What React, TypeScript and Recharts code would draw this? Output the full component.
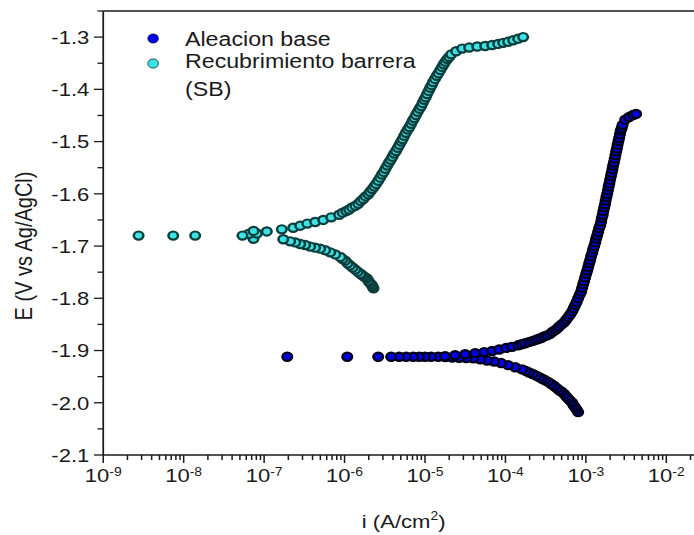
import React from 'react';
import { ScatterChart, Scatter, XAxis, YAxis, ReferenceLine, Legend } from 'recharts';

// Aleacion base: current density (A/cm2) and potential (V vs Ag/AgCl)
// cathodic branch, from -2.02 V up to the corrosion potential
const baseCathI = [
  8.02e-4, 7.69e-4, 7.36e-4, 7.05e-4, 6.76e-4, 6.38e-4, 6.03e-4, 5.69e-4, 5.37e-4, 5.0e-4,
  4.66e-4, 4.34e-4, 4.04e-4, 3.71e-4, 3.4e-4, 3.12e-4, 2.86e-4, 2.63e-4, 2.41e-4, 2.18e-4,
  1.97e-4, 1.79e-4, 1.61e-4, 1.32e-4, 1.08e-4, 8.85e-5, 7.24e-5, 5.93e-5, 4.85e-5, 3.97e-5,
  3.25e-5, 2.66e-5, 2.18e-5, 1.78e-5, 1.46e-5, 1.19e-5, 1.0e-5, 8.47e-6, 7.13e-6, 5.83e-6,
  4.77e-6, 3.8e-6, 2.62e-6, 1.08e-6, 1.94e-7,
];
const baseCathE = [
  -2.018, -2.013, -2.009, -2.005, -2.0, -1.996, -1.992, -1.988, -1.983, -1.979,
  -1.976, -1.972, -1.968, -1.964, -1.96, -1.957, -1.954, -1.951, -1.948, -1.945,
  -1.942, -1.939, -1.936, -1.932, -1.928, -1.924, -1.921, -1.919, -1.917, -1.915,
  -1.9145, -1.914, -1.9133, -1.9126, -1.912, -1.912, -1.912, -1.912, -1.912, -1.912,
  -1.912, -1.912, -1.912, -1.912, -1.912,
];
// anodic branch, from the corrosion potential up to -1.45 V
const baseAnodI = [
  1.78e-5, 2.37e-5, 3.16e-5, 4.21e-5, 5.45e-5, 6.84e-5, 8.36e-5, 1.02e-4, 1.21e-4, 1.44e-4,
  1.59e-4, 1.76e-4, 1.95e-4, 2.15e-4, 2.34e-4, 2.55e-4, 2.78e-4, 3.03e-4, 3.3e-4, 3.6e-4,
  3.86e-4, 4.15e-4, 4.4e-4, 4.66e-4, 5.0e-4, 5.37e-4, 5.69e-4, 6.03e-4, 6.38e-4, 6.76e-4,
  7.05e-4, 7.36e-4, 7.69e-4, 8.02e-4, 8.38e-4, 8.75e-4, 8.99e-4, 9.25e-4, 9.53e-4, 9.8e-4,
  1.01e-3, 1.04e-3, 1.07e-3, 1.1e-3, 1.13e-3, 1.16e-3, 1.2e-3, 1.23e-3, 1.27e-3, 1.31e-3,
  1.34e-3, 1.38e-3, 1.42e-3, 1.46e-3, 1.51e-3, 1.55e-3, 1.58e-3, 1.62e-3, 1.65e-3, 1.69e-3,
  1.73e-3, 1.76e-3, 1.8e-3, 1.84e-3, 1.88e-3, 1.92e-3, 1.96e-3, 2.0e-3, 2.05e-3, 2.09e-3,
  2.14e-3, 2.18e-3, 2.23e-3, 2.28e-3, 2.33e-3, 2.38e-3, 2.43e-3, 2.48e-3, 2.54e-3, 2.59e-3,
  2.65e-3, 2.71e-3, 2.79e-3, 2.86e-3, 3.08e-3, 3.45e-3, 3.87e-3, 4.22e-3,
];
const baseAnodE = [
  -1.911, -1.909, -1.907, -1.905, -1.903, -1.901, -1.898, -1.895, -1.893, -1.89,
  -1.888, -1.886, -1.884, -1.882, -1.88, -1.878, -1.876, -1.873, -1.871, -1.868,
  -1.864, -1.861, -1.858, -1.854, -1.85, -1.846, -1.841, -1.836, -1.831, -1.825,
  -1.819, -1.813, -1.807, -1.8, -1.793, -1.787, -1.78, -1.773, -1.767, -1.76,
  -1.753, -1.747, -1.74, -1.733, -1.727, -1.72, -1.713, -1.706, -1.7, -1.693,
  -1.686, -1.68, -1.673, -1.666, -1.66, -1.653, -1.646, -1.64, -1.633, -1.626,
  -1.62, -1.613, -1.606, -1.6, -1.593, -1.586, -1.58, -1.573, -1.566, -1.56,
  -1.553, -1.546, -1.54, -1.533, -1.526, -1.519, -1.513, -1.506, -1.499, -1.493,
  -1.486, -1.479, -1.474, -1.468, -1.458, -1.453, -1.449, -1.447,
];

// Recubrimiento barrera (SB)
const sbCathI = [
  2.29e-6, 2.24e-6, 2.19e-6, 2.11e-6, 2.02e-6, 1.97e-6, 1.9e-6, 1.81e-6, 1.73e-6, 1.64e-6,
  1.57e-6, 1.46e-6, 1.36e-6, 1.26e-6, 1.17e-6, 1.09e-6, 1.02e-6, 9.48e-7, 8.84e-7, 7.66e-7,
  6.64e-7, 5.74e-7, 4.98e-7, 4.31e-7, 3.74e-7, 3.24e-7, 2.81e-7, 2.44e-7, 2.11e-7, 1.73e-7,
];
const sbCathE = [
  -1.781, -1.778, -1.775, -1.772, -1.769, -1.766, -1.762, -1.76, -1.758, -1.755,
  -1.753, -1.749, -1.745, -1.741, -1.737, -1.733, -1.728, -1.725, -1.721, -1.716,
  -1.712, -1.708, -1.705, -1.703, -1.701, -1.698, -1.696, -1.693, -1.691, -1.687,
];
// scattered points around the corrosion potential
const sbZeroI = [7.38e-8, 8.13e-8, 6.4e-8, 5.38e-8, 7.38e-8, 1.39e-8, 7.41e-9, 2.75e-9];
const sbZeroE = [-1.686, -1.676, -1.677, -1.68, -1.671, -1.68, -1.68, -1.68];
const sbAnodI = [
  1.08e-7, 1.66e-7, 2.3e-7, 2.81e-7, 3.44e-7, 4.31e-7, 5.43e-7, 6.82e-7, 8.57e-7, 9.48e-7,
  1.05e-6, 1.14e-6, 1.24e-6, 1.36e-6, 1.48e-6, 1.59e-6, 1.71e-6, 1.83e-6, 1.97e-6, 2.08e-6,
  2.21e-6, 2.34e-6, 2.47e-6, 2.62e-6, 2.77e-6, 2.92e-6, 3.07e-6, 3.22e-6, 3.39e-6, 3.56e-6,
  3.75e-6, 3.94e-6, 4.14e-6, 4.36e-6, 4.58e-6, 4.81e-6, 5.06e-6, 5.28e-6, 5.51e-6, 5.79e-6,
  6.1e-6, 6.41e-6, 6.73e-6, 7.03e-6, 7.35e-6, 7.72e-6, 8.11e-6, 8.53e-6, 8.97e-6, 9.35e-6,
  9.77e-6, 1.02e-5, 1.06e-5, 1.11e-5, 1.16e-5, 1.21e-5, 1.26e-5, 1.33e-5, 1.4e-5, 1.47e-5,
  1.55e-5, 1.63e-5, 1.71e-5, 1.79e-5, 1.89e-5, 2.0e-5, 2.12e-5, 2.44e-5, 2.9e-5, 3.54e-5,
  4.46e-5, 5.6e-5, 6.84e-5, 8.13e-5, 9.38e-5, 1.08e-4, 1.25e-4, 1.44e-4, 1.66e-4,
];
const sbAnodE = [
  -1.672, -1.668, -1.665, -1.661, -1.657, -1.654, -1.65, -1.645, -1.64, -1.636,
  -1.633, -1.63, -1.626, -1.623, -1.619, -1.614, -1.61, -1.605, -1.601, -1.596,
  -1.591, -1.586, -1.581, -1.575, -1.569, -1.563, -1.558, -1.552, -1.546, -1.54,
  -1.535, -1.529, -1.523, -1.518, -1.512, -1.506, -1.5, -1.495, -1.489, -1.483,
  -1.477, -1.472, -1.466, -1.46, -1.455, -1.449, -1.443, -1.437, -1.432, -1.426,
  -1.42, -1.415, -1.409, -1.403, -1.397, -1.392, -1.386, -1.38, -1.374, -1.369,
  -1.363, -1.357, -1.352, -1.347, -1.342, -1.338, -1.333, -1.327, -1.322, -1.32,
  -1.318, -1.317, -1.315, -1.313, -1.311, -1.309, -1.306, -1.303, -1.3,
];

const xMajor = [1e-9, 1e-8, 1e-7, 1e-6, 1e-5, 1e-4, 1e-3, 1e-2];
const xMinorSteps = [2, 3, 4, 5, 6, 7, 8, 9];
const yMajor = [-2.1, -2.0, -1.9, -1.8, -1.7, -1.6, -1.5, -1.4, -1.3];
const yMinor = [-2.05, -1.95, -1.85, -1.75, -1.65, -1.55, -1.45, -1.35, -1.25];

const X_MAX = 0.025;
const Y_DOMAIN: [number, number] = [-2.1, -1.25];

const toPoints = (is: number[], es: number[]) => is.map((i, k) => ({ i, E: es[k] }));
// drawn in scan order so each marker overlaps the one before it
const baseData = [...toPoints(baseCathI, baseCathE), ...toPoints(baseAnodI, baseAnodE)];
const sbData = [
  ...toPoints(sbCathI, sbCathE),
  ...toPoints(sbZeroI, sbZeroE),
  ...toPoints(sbAnodI, sbAnodE),
];

const xTicks = xMajor
  .flatMap((m) => [m, ...xMinorSteps.map((s) => s * m)])
  .filter((v) => v <= X_MAX);
const yTicks = [...yMajor, ...yMinor].sort((a, b) => a - b);

// the original figure is stretched sideways, so the whole chart is too
const STRETCH = 1.16;
const FONT = '"Liberation Sans", Arial, sans-serif';
const INK = '#1a1a1a';
const BLUE = '#0000ee';
const BLUE_EDGE = '#000018';
const CYAN = '#3de3e3';
const CYAN_EDGE = '#0d3e3e';

const XTick = (props: any) => {
  const { x, y, payload } = props;
  const lg = Math.log10(payload.value);
  const major = Math.abs(lg - Math.round(lg)) < 1e-6;
  return (
    <g>
      <line x1={x} x2={x} y1={y} y2={y + (major ? 8 : 5)} stroke={INK} strokeWidth={1.3} />
      {major && (
        <text x={x} y={y + 27} textAnchor="middle" fontSize={19} fontFamily={FONT} fill={INK}>
          10
          <tspan fontSize={12} dy={-6}>
            {Math.round(lg)}
          </tspan>
        </text>
      )}
    </g>
  );
};

const YTick = (props: any) => {
  const { x, y, payload } = props;
  const v = payload.value;
  const major = yMajor.some((m) => Math.abs(m - v) < 1e-6);
  return (
    <g>
      <line x1={x} x2={x - (major ? 8 : 5)} y1={y} y2={y} stroke={INK} strokeWidth={1.3} />
      {major && (
        <text x={x - 12} y={y} dy="0.36em" textAnchor="end" fontSize={19} fontFamily={FONT} fill={INK}>
          {v.toFixed(1)}
        </text>
      )}
    </g>
  );
};

const dot = (fill: string, stroke: string) => (p: any) => (
  <circle cx={p.cx} cy={p.cy} r={4.1} fill={fill} stroke={stroke} strokeWidth={2.2} />
);

const LegendBox = () => (
  <svg width={600} height={110} style={{ display: 'block' }}>
    <g fontFamily={FONT} fontSize={20} fill={INK}>
      <circle cx={132} cy={38.5} r={4.6} fill={BLUE} stroke={BLUE_EDGE} strokeWidth={0.6} />
      <text x={159.5} y={46.5}>Aleacion base</text>
      <circle cx={132} cy={63.5} r={4.6} fill={CYAN} stroke={CYAN_EDGE} strokeWidth={0.8} />
      <text x={159.5} y={68.5}>Recubrimiento barrera</text>
      <text x={159.5} y={96.5}>(SB)</text>
    </g>
  </svg>
);

const XTitle = () => (
  <text x={348} y={528} textAnchor="middle" fontSize={19} fontFamily={FONT} fill={INK}>
    i (A/cm
    <tspan fontSize={12} dy={-8}>2</tspan>
    <tspan dy={8}>)</tspan>
  </text>
);

const YTitle = () => (
  <text
    transform="translate(28,246) rotate(-90)"
    textAnchor="middle"
    fontSize={20}
    fontFamily={FONT}
    fill={INK}
  >
    E (V vs Ag/AgCl)
  </text>
);

export default function App() {
  return (
    <div style={{ position: 'absolute', left: 0, top: 0, width: 694, height: 535, overflow: 'hidden', background: '#fff' }}>
      <div style={{ width: 602, height: 535, transform: `scaleX(${STRETCH})`, transformOrigin: '0 0' }}>
        <ScatterChart width={602} height={535} margin={{ top: 11, right: 0, bottom: 0, left: 0 }}>
          <XAxis
            type="number"
            dataKey="i"
            scale="log"
            domain={[1e-9, X_MAX]}
            allowDataOverflow
            ticks={xTicks}
            interval={0}
            tick={<XTick />}
            tickLine={false}
            tickSize={0}
            tickMargin={0}
            height={80}
            axisLine={{ stroke: INK, strokeWidth: 1.5 }}
            label={<XTitle />}
          />
          <YAxis
            type="number"
            dataKey="E"
            domain={Y_DOMAIN}
            allowDataOverflow
            ticks={yTicks}
            interval={0}
            tick={<YTick />}
            tickLine={false}
            tickSize={0}
            tickMargin={0}
            width={89}
            axisLine={{ stroke: INK, strokeWidth: 1.5 }}
            label={<YTitle />}
          />
          <ReferenceLine y={-1.25} stroke={INK} strokeWidth={1.5} />
          <Legend
            layout="vertical"
            align="center"
            verticalAlign="middle"
            wrapperStyle={{ left: 0, top: 0, width: 600, height: 110 }}
            content={<LegendBox />}
          />
          <Scatter
            name="Aleacion base"
            data={baseData}
            shape={dot(BLUE, BLUE_EDGE)}
            isAnimationActive={false}
          />
          <Scatter
            name="Recubrimiento barrera (SB)"
            data={sbData}
            shape={dot(CYAN, CYAN_EDGE)}
            isAnimationActive={false}
          />
        </ScatterChart>
      </div>
    </div>
  );
}
